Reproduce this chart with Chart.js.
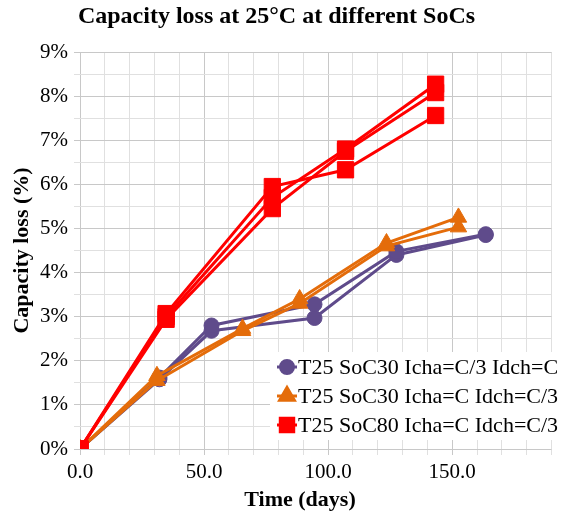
<!DOCTYPE html>
<html>
<head>
<meta charset="utf-8">
<script src="https://cdn.jsdelivr.net/npm/chart.js@4"></script>
<style>
  html, body { margin: 0; padding: 0; background: #fff; }
  #wrap { width: 564px; height: 517px; }
</style>
</head>
<body>
<div id="wrap"><canvas id="lossChart" width="564" height="517"></canvas></div>
<script>
// series names (legend)
const seriesNames = ["T25 SoC30 Icha=C/3 Idch=C", "T25 SoC30 Icha=C Idch=C/3", "T25 SoC80 Icha=C Idch=C/3"];

// SoC30 Icha=C/3 Idch=C (two cells)
const soc30aDays = [0, 32, 53, 94.5, 127.5, 163.5];
const soc30aLoss1 = [0, 1.62, 2.80, 3.28, 4.48, 4.87];
const soc30aLoss2 = [0, 1.58, 2.68, 2.97, 4.40, 4.85];

// SoC30 Icha=C Idch=C/3 (two cells)
const soc30bDays = [0, 31, 65.5, 88.5, 123.5, 152.5];
const soc30bLoss1 = [0, 1.66, 2.73, 3.40, 4.67, 5.25];
const soc30bLoss2 = [0, 1.55, 2.68, 3.30, 4.60, 5.03];

// SoC80 Icha=C Idch=C/3 (three cells)
const soc80Days = [0, 34.7, 77.5, 107, 143.3];
const soc80Loss1 = [0, 3.07, 5.95, 6.33, 7.56];
const soc80Loss2 = [0, 3.00, 5.70, 6.80, 8.27];
const soc80Loss3 = [0, 2.94, 5.45, 6.75, 8.08];

// axis ticks
const yTickMax = 9;
const xTickLabels = [0, 50, 100, 150];

const purple = "#5f4b8b";
const orange = "#e46c0a";
const red = "#ff0000";
const serif = "'Liberation Serif', 'Times New Roman', serif";

function pts(days, loss) {
    return days.map((d, i) => ({ x: d, y: loss[i] }));
}

function series(name, days, loss, color, style, radius, order) {
    return {
        label: name,
        data: pts(days, loss),
        showLine: true,
        borderColor: color,
        backgroundColor: color,
        borderWidth: 3,
        pointStyle: style,
        pointRadius: radius,
        pointHoverRadius: radius,
        pointBorderWidth: 1,
        order: order
    };
}

const datasets = [
    series(seriesNames[0], soc30aDays, soc30aLoss1, purple, "circle", 7.5, 2),
    series(seriesNames[0], soc30aDays, soc30aLoss2, purple, "circle", 7.5, 2),
    series(seriesNames[1], soc30bDays, soc30bLoss1, orange, "triangle", 9.5, 1),
    series(seriesNames[1], soc30bDays, soc30bLoss2, orange, "triangle", 9.5, 1),
    series(seriesNames[2], soc80Days, soc80Loss1, red, "rect", 11.5, 0),
    series(seriesNames[2], soc80Days, soc80Loss2, red, "rect", 11.5, 0),
    series(seriesNames[2], soc80Days, soc80Loss3, red, "rect", 11.5, 0)
];

// legend drawn inside the plot, bottom right, plus the x axis title
const insideLegend = {
    id: "insideLegend",
    afterDatasetsDraw(chart) {
        const ctx = chart.ctx;
        const entries = [
            { name: seriesNames[0], color: purple, style: "circle", r: 6.5 },
            { name: seriesNames[1], color: orange, style: "triangle", r: 8.5 },
            { name: seriesNames[2], color: red, style: "rect", r: 9.5 }
        ];
        const left = 270, top = 352, rowH = 29;
        ctx.save();
        ctx.fillStyle = "#fff";
        ctx.fillRect(left, top, 564 - left, 88);
        ctx.font = "22px " + serif;
        ctx.textBaseline = "middle";
        entries.forEach((e, i) => {
            const y = top + 15 + i * rowH;
            ctx.strokeStyle = e.color;
            ctx.lineWidth = 3;
            ctx.beginPath();
            ctx.moveTo(left + 7, y);
            ctx.lineTo(left + 27, y);
            ctx.stroke();
            ctx.fillStyle = e.color;
            Chart.helpers.drawPoint(ctx, { pointStyle: e.style, radius: e.r, borderWidth: 1 }, left + 17, y);
            ctx.fill();
            ctx.fillStyle = "#000";
            ctx.fillText(e.name, left + 28, y + 1);
        });

        // x axis title, Excel puts it a bit left of the plot centre
        ctx.font = "bold 22px " + serif;
        ctx.textAlign = "center";
        ctx.fillText("Time (days)", 300, 500);
        ctx.restore();
    }
};

new Chart(document.getElementById("lossChart"), {
    type: "scatter",
    data: { datasets: datasets },
    options: {
        responsive: false,
        animation: false,
        layout: { padding: { left: 0, right: 11, top: 0, bottom: 0 } },
        plugins: {
            legend: { display: false },
            tooltip: { enabled: false },
            title: {
                display: true,
                text: "Capacity loss at 25°C at different SoCs",
                color: "#000",
                font: { family: serif, size: 24, weight: "bold", lineHeight: 1.2 },
                padding: { top: 2, bottom: 21.2 }
            }
        },
        scales: {
            x: {
                type: "linear",
                min: 0,
                max: 190,
                afterFit: s => { s.height = 68; },
                ticks: {
                    stepSize: 10,
                    autoSkip: false,
                    maxRotation: 0,
                    padding: 5,
                    color: "#000",
                    font: { family: serif, size: 21 },
                    callback: v => xTickLabels.includes(v) ? v.toFixed(1) : ""
                },
                grid: {
                    color: c => (c.tick && c.tick.value % 50 === 0) ? "#c8c8c8" : "#e0e0e0",
                    lineWidth: 1,
                    tickLength: 6
                },
                border: { display: false },
                title: { display: false }
            },
            y: {
                min: 0,
                max: yTickMax,
                afterFit: s => { s.width = 80; },
                ticks: {
                    stepSize: 0.5,
                    autoSkip: false,
                    padding: 6,
                    color: "#000",
                    font: { family: serif, size: 21 },
                    callback: v => Number.isInteger(v) ? v + "%" : ""
                },
                grid: {
                    color: c => (c.tick && Number.isInteger(c.tick.value)) ? "#c8c8c8" : "#e0e0e0",
                    lineWidth: 1,
                    tickLength: 6
                },
                border: { display: false },
                title: {
                    display: true,
                    text: "Capacity loss (%)",
                    color: "#000",
                    font: { family: serif, size: 22, weight: "bold", lineHeight: 1.2 },
                    padding: { top: 9, bottom: 0 }
                }
            }
        }
    },
    plugins: [insideLegend]
});
</script>
</body>
</html>
